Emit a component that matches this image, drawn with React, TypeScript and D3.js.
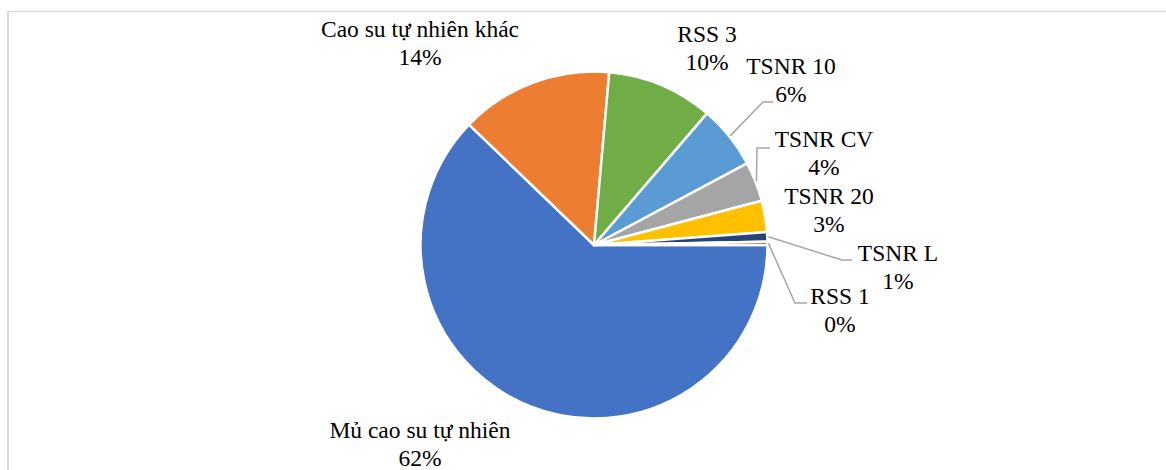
import React from "react";
import * as d3 from "d3";

const categories = [
  "Mủ cao su tự nhiên",
  "Cao su tự nhiên khác",
  "RSS 3",
  "TSNR 10",
  "TSNR CV",
  "TSNR 20",
  "TSNR L",
  "RSS 1",
];
const values = [62.2, 14.2, 9.9, 5.9, 3.7, 2.9, 0.9, 0.3];
const colors = ["#4472C4", "#ED7D31", "#70AD47", "#5B9BD5", "#A5A5A5", "#FFC000", "#264478", "#9E480E"];

// label layout: center x, first baseline y, optional leader elbow + end
const labelLayout = [
  { x: 420, y: 438, leader: null },
  { x: 420, y: 37, leader: null },
  { x: 707, y: 42, leader: null },
  { x: 791, y: 74, leader: [[763, 102], [773, 102]] },
  { x: 824, y: 147, leader: [[757, 148], [770, 148]] },
  { x: 829, y: 204, leader: null },
  { x: 898, y: 261, leader: [[842, 260], [852, 260]] },
  { x: 840, y: 304, leader: [[795, 303], [807, 303]] },
];

const W = 1166;
const H = 470;
const cx = 594;
const cy = 245;
const R = 173.5;
const FONT = '"Liberation Serif", "Times New Roman", "DejaVu Serif", serif';

export default function App() {
  const total = d3.sum(values);
  const pie = d3
    .pie<number>()
    .sort(null)
    .value((d) => d)
    .startAngle(Math.PI / 2)
    .endAngle(Math.PI / 2 + 2 * Math.PI);
  const arcs = pie(values);
  const arc = d3.arc<d3.PieArcDatum<number>>().innerRadius(0).outerRadius(R);
  const fmt = (v: number) => `${Math.round((v / total) * 100)}%`;

  return (
    <svg
      width={W}
      height={H}
      style={{ position: "absolute", left: 0, top: 0, background: "#fff" }}
    >
      <line x1={8} y1={11.5} x2={W} y2={11.5} stroke="#d9d9d9" strokeWidth={1.5} />
      <line x1={8} y1={11} x2={8} y2={H} stroke="#d9d9d9" strokeWidth={2} />
      <g transform={`translate(${cx},${cy})`}>
        {arcs.map((a, i) => (
          <path key={i} d={arc(a) || ""} fill={colors[i]} stroke="#fff" strokeWidth={2.5} strokeLinejoin="round" />
        ))}
      </g>
      {arcs.map((a, i) => {
        const L = labelLayout[i];
        if (!L.leader) return null;
        const mid = (a.startAngle + a.endAngle) / 2;
        const sx = cx + (R + 1) * Math.sin(mid);
        const sy = cy - (R + 1) * Math.cos(mid);
        const pts = [[sx, sy], ...L.leader];
        return (
          <polyline
            key={"l" + i}
            points={pts.map((p) => p.join(",")).join(" ")}
            fill="none"
            stroke="#a6a6a6"
            strokeWidth={1.5}
          />
        );
      })}
      {arcs.map((a, i) => {
        const L = labelLayout[i];
        return (
          <text
            key={"t" + i}
            x={L.x}
            y={L.y}
            textAnchor="middle"
            style={{ fontFamily: FONT, fontSize: "23.5px" }}
            fill="#000"
          >
            <tspan x={L.x}>{categories[i]}</tspan>
            <tspan x={L.x} dy={28}>{fmt(values[i])}</tspan>
          </text>
        );
      })}
    </svg>
  );
}
